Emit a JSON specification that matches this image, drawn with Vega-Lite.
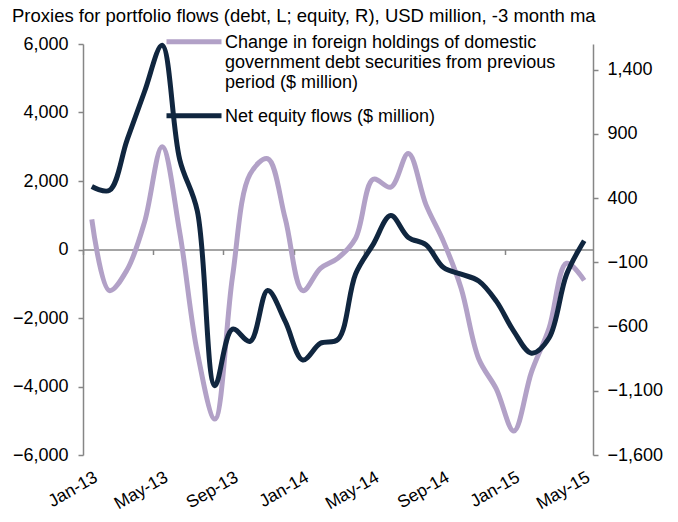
{
  "$schema": "https://vega.github.io/schema/vega-lite/v6.json",
  "width": 510,
  "height": 411,
  "autosize": {"type": "none"},
  "padding": {"left": 83, "top": 44, "right": 85, "bottom": 67},
  "background": "white",
  "config": {
    "font": "Liberation Sans",
    "view": {"stroke": null},
    "axis": {"labelFont": "Liberation Sans", "labelFontSize": 18, "labelColor": "#000000", "domainColor": "#868686", "tickColor": "#868686", "domainWidth": 1.5, "tickWidth": 1.5, "grid": false, "title": null}
  },
  "title": {
    "text": "Proxies for portfolio flows (debt, L; equity, R), USD million, -3 month ma",
    "anchor": "start",
    "frame": "group",
    "dx": -71,
    "offset": -22,
    "baseline": "alphabetic",
    "fontSize": 18.5,
    "fontWeight": "normal",
    "font": "Liberation Sans",
    "color": "#000000"
  },
  "data": {
    "values": [
      {"month": "Jan-13", "debt": 880, "equity": 490},
      {"month": "Feb-13", "debt": -1200, "equity": 460},
      {"month": "Mar-13", "debt": -600, "equity": 850},
      {"month": "Apr-13", "debt": 800, "equity": 1230},
      {"month": "May-13", "debt": 3000, "equity": 1590},
      {"month": "Jun-13", "debt": 500, "equity": 700},
      {"month": "Jul-13", "debt": -3000, "equity": 300},
      {"month": "Aug-13", "debt": -4950, "equity": -1060},
      {"month": "Sep-13", "debt": -800, "equity": -620},
      {"month": "Oct-13", "debt": 2200, "equity": -715},
      {"month": "Nov-13", "debt": 2650, "equity": -320},
      {"month": "Dec-13", "debt": 900, "equity": -560},
      {"month": "Jan-14", "debt": -1200, "equity": -860},
      {"month": "Feb-14", "debt": -550, "equity": -730},
      {"month": "Mar-14", "debt": -250, "equity": -700},
      {"month": "Apr-14", "debt": 330, "equity": -190},
      {"month": "May-14", "debt": 2050, "equity": 40},
      {"month": "Jun-14", "debt": 1820, "equity": 264},
      {"month": "Jul-14", "debt": 2800, "equity": 94},
      {"month": "Aug-14", "debt": 1310, "equity": 37},
      {"month": "Sep-14", "debt": 230, "equity": -141},
      {"month": "Oct-14", "debt": -1130, "equity": -192},
      {"month": "Nov-14", "debt": -3190, "equity": -245},
      {"month": "Dec-14", "debt": -4070, "equity": -402},
      {"month": "Jan-15", "debt": -5300, "equity": -637},
      {"month": "Feb-15", "debt": -3580, "equity": -807},
      {"month": "Mar-15", "debt": -2300, "equity": -689},
      {"month": "Apr-15", "debt": -400, "equity": -193},
      {"month": "May-15", "debt": -900, "equity": 68}
    ]
  },
  "layer": [
    {
      "mark": {"type": "line", "interpolate": "catmull-rom", "strokeWidth": 5},
      "encoding": {
        "x": {
          "field": "month", "type": "ordinal", "sort": null,
          "scale": {"type": "band", "paddingInner": 0, "paddingOuter": 0},
          "axis": {
            "orient": "bottom",
            "values": ["Jan-13", "May-13", "Sep-13", "Jan-14", "May-14", "Sep-14", "Jan-15", "May-15"],
            "domain": false, "ticks": false,
            "labelFontSize": 17.5,
            "labelAngle": -30, "labelAlign": "right", "labelBaseline": "top",
            "labelPadding": 13
          }
        },
        "y": {
          "field": "debt", "type": "quantitative",
          "scale": {"domain": [-6000, 6000], "nice": false, "zero": false},
          "axis": {
            "orient": "left",
            "values": [-6000, -4000, -2000, 0, 2000, 4000, 6000],
            "format": ",.0f", "tickSize": 5, "labelPadding": 10, "domain": true
          }
        },
        "color": {
          "datum": "Change in foreign holdings of domestic government debt securities from previous period ($ million)",
          "type": "nominal",
          "scale": {
            "domain": ["Change in foreign holdings of domestic government debt securities from previous period ($ million)", "Net equity flows ($ million)"],
            "range": ["#B2A1C7", "#10263F"]
          },
          "legend": {
            "orient": "none",
            "legendX": 81,
            "legendY": -26,
            "padding": 0,
            "title": null,
            "symbolType": "M-1,-0.23L1,-0.23",
            "symbolSize": 3025,
            "symbolStrokeWidth": 5,
            "symbolFillColor": "transparent",
            "labelFont": "Liberation Sans",
            "labelFontSize": 18,
            "labelColor": "#000000",
            "labelBaseline": "alphabetic",
            "labelLineHeight": 21,
            "labelOffset": 1,
            "labelLimit": 0,
            "rowPadding": 0,
            "labelExpr": "datum.label == 'Net equity flows ($ million)' ? datum.label : ['Change in foreign holdings of domestic', 'government debt securities from previous', 'period ($ million)']"
          }
        }
      }
    },
    {
      "mark": {"type": "line", "interpolate": "catmull-rom", "strokeWidth": 5},
      "encoding": {
        "x": {
          "field": "month", "type": "ordinal", "sort": null,
          "axis": {
            "orient": "bottom",
            "offset": -205.5,
            "values": ["Jan-13", "May-13", "Sep-13", "Jan-14", "May-14", "Sep-14", "Jan-15", "May-15"],
            "labels": false, "domain": true, "ticks": true, "bandPosition": 0, "tickSize": 5
          }
        },
        "y": {
          "field": "equity", "type": "quantitative",
          "scale": {"domain": [-1600, 1600], "nice": false, "zero": false},
          "axis": {
            "orient": "right",
            "values": [-1600, -1100, -600, -100, 400, 900, 1400],
            "format": ",.0f", "tickSize": 5, "labelPadding": 9, "domain": true
          }
        },
        "color": {"datum": "Net equity flows ($ million)", "type": "nominal"}
      }
    }
  ],
  "resolve": {"scale": {"y": "independent"}, "axis": {"x": "independent", "y": "independent"}}
}
